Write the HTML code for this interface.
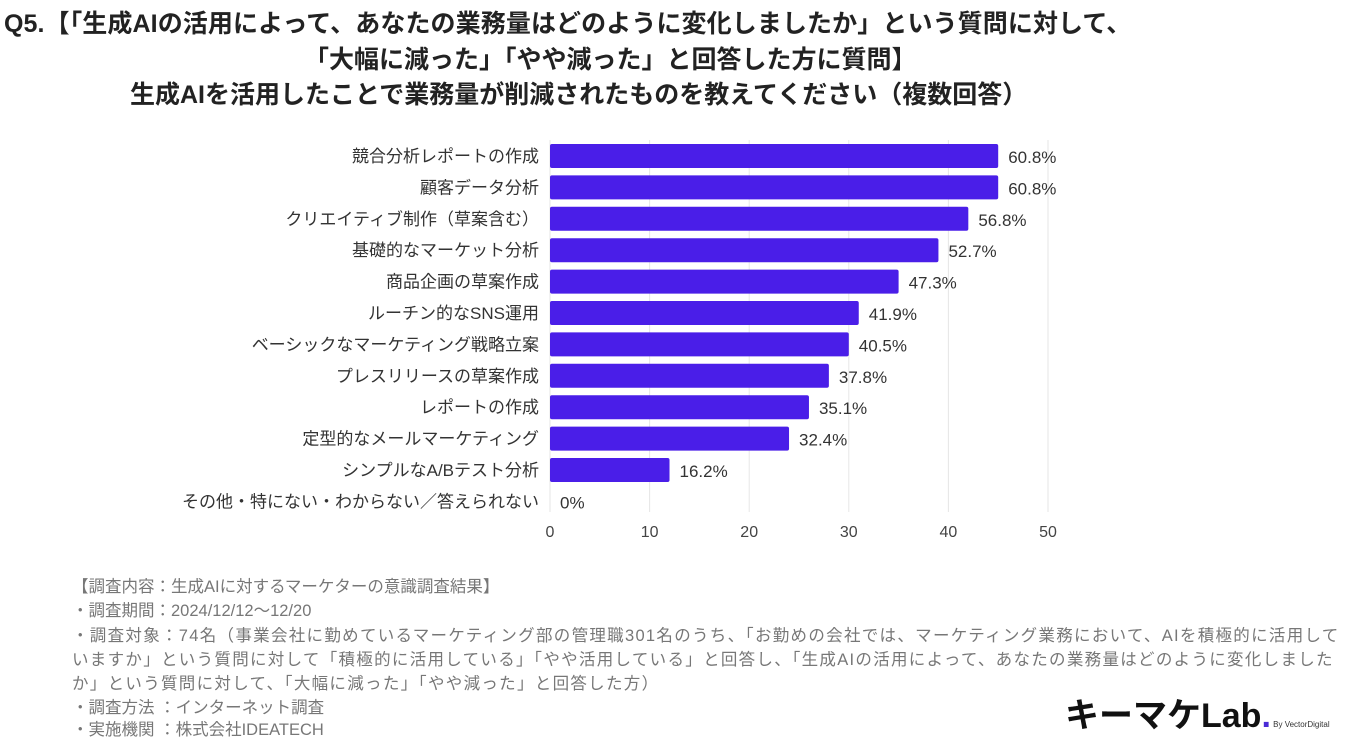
<!DOCTYPE html>
<html><head><meta charset="utf-8"><style>
body{margin:0;width:1360px;height:737px;background:#fff;overflow:hidden;font-family:"Liberation Sans","Noto Sans CJK JP",sans-serif;position:relative}
.t{position:absolute;font-weight:bold;color:#222;font-size:25px;white-space:nowrap}
.f{position:absolute;left:72px;color:#777;font-size:16.5px;white-space:nowrap}
.l{letter-spacing:1.3px}
</style></head><body>
<div class="t" style="left:4px;top:4px;letter-spacing:0.1px">Q5.【「生成AIの活用によって、あなたの業務量はどのように変化しましたか」という質問に対して、</div>
<div class="t" style="left:304px;top:40px">「大幅に減った」「やや減った」と回答した方に質問】</div>
<div class="t" style="left:130px;top:75px">生成AIを活用したことで業務量が削減されたものを教えてください（複数回答）</div>
<svg id="chart" width="1360" height="737" style="position:absolute;left:0;top:0"></svg>
<div class="f" style="top:573px">【調査内容：生成AIに対するマーケターの意識調査結果】</div>
<div class="f" style="top:597px">・調査期間：2024/12/12〜12/20</div>
<div class="f l" style="top:622px">・調査対象：74名（事業会社に勤めているマーケティング部の管理職301名のうち、「お勤めの会社では、マーケティング業務において、AIを積極的に活用して</div>
<div class="f l" style="top:646px">いますか」という質問に対して「積極的に活用している」「やや活用している」と回答し、「生成AIの活用によって、あなたの業務量はどのように変化しました</div>
<div class="f l" style="top:670px">か」という質問に対して、「大幅に減った」「やや減った」と回答した方）</div>
<div class="f" style="top:694px">・調査方法 ：インターネット調査</div>
<div class="f" style="top:716px">・実施機関 ：株式会社IDEATECH</div>
<div style="position:absolute;left:1065px;top:688px;font-weight:bold;font-size:34px;color:#111;white-space:nowrap">キーマケLab<span style="color:#4a2bd6">.</span><span style="font-size:8px;color:#333;font-weight:normal"> By VectorDigital</span></div>
<script>
const categories=["競合分析レポートの作成","顧客データ分析","クリエイティブ制作（草案含む）","基礎的なマーケット分析","商品企画の草案作成","ルーチン的なSNS運用","ベーシックなマーケティング戦略立案","プレスリリースの草案作成","レポートの作成","定型的なメールマーケティング","シンプルなA/Bテスト分析","その他・特にない・わからない／答えられない"];
const values=[45,45,42,39,35,31,30,28,26,24,12,0];
const pctLabels=["60.8%","60.8%","56.8%","52.7%","47.3%","41.9%","40.5%","37.8%","35.1%","32.4%","16.2%","0%"];
const ticks=[0,10,20,30,40,50];
const svg=document.getElementById('chart');const NS='http://www.w3.org/2000/svg';
const x0=550,x1=1048,vmax=50;const X=v=>x0+(x1-x0)*v/vmax;
const y0=156,step=31.4;const Y=i=>y0+i*step;
function mk(t,a){const e=document.createElementNS(NS,t);for(const k in a)e.setAttribute(k,a[k]);svg.appendChild(e);return e;}
ticks.forEach(t=>{const l=mk('line',{x1:X(t),x2:X(t),y1:140,y2:512,stroke:'#e6e6e6','stroke-width':1});


const tx=mk('text',{x:X(t),y:537,'text-anchor':'middle','font-size':16,fill:'#444'});tx.textContent=t;

});
categories.forEach((c,i)=>{const y=Y(i);
const lb=mk('text',{x:539,y:y+6,'text-anchor':'end','font-size':17,fill:'#333'});lb.textContent=c;


if(values[i]>0){const r=mk('rect',{x:X(0),y:y-12,width:X(values[i])-X(0),height:24,fill:'#4a1ee8',rx:2});

}
const v=mk('text',{x:X(values[i])+10,y:y+7,'font-size':17,fill:'#333'});v.textContent=pctLabels[i];

});
</script>
</body></html>
